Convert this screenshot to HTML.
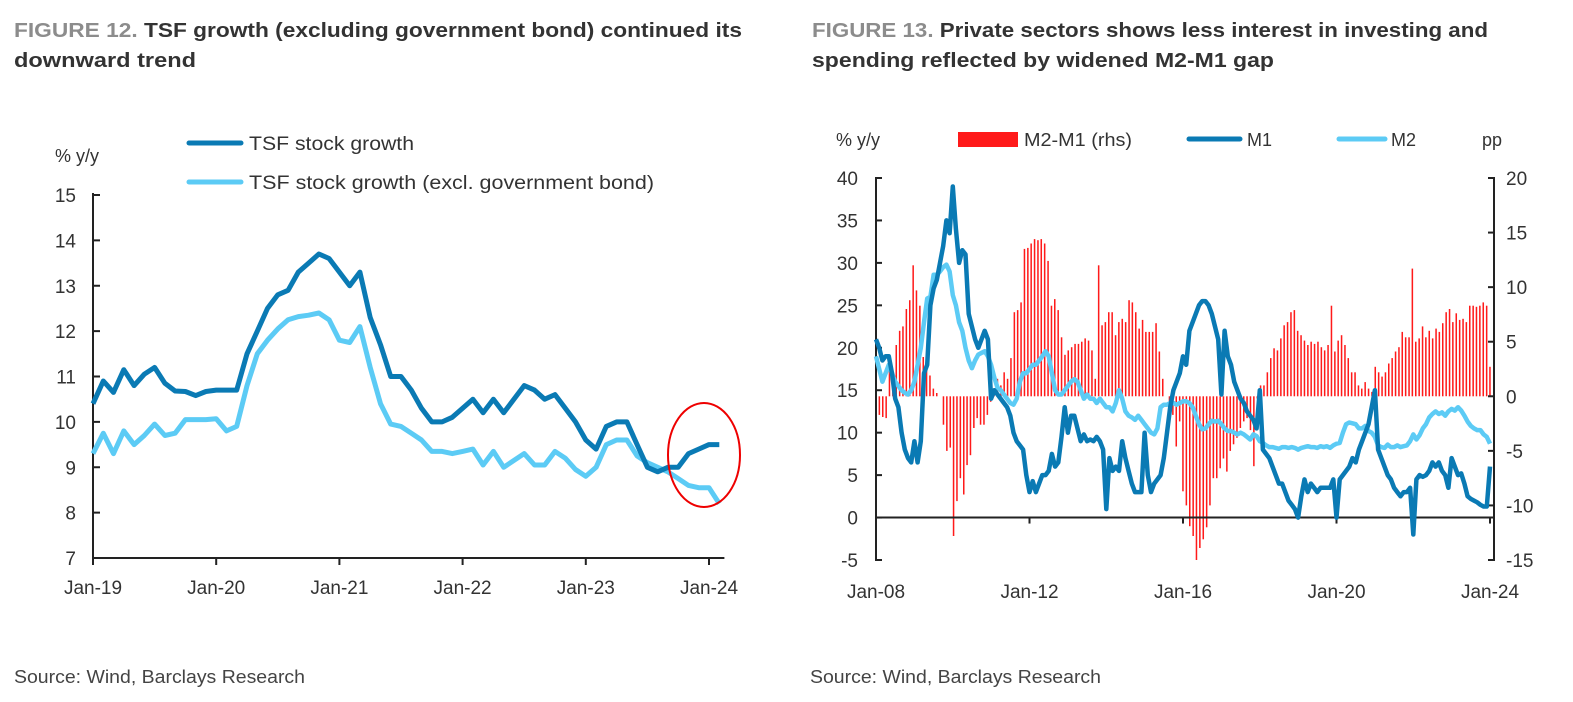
<!DOCTYPE html>
<html><head><meta charset="utf-8"><style>
html,body{margin:0;padding:0;background:#fff;}
svg{display:block;font-family:"Liberation Sans",sans-serif;}
</style></head><body>
<svg id="root" width="1573" height="702" viewBox="0 0 1573 702">
<g font-weight="bold" font-size="20" fill="#333">
<text x="14" y="37" textLength="728" lengthAdjust="spacingAndGlyphs"><tspan fill="#8c8c8c">FIGURE 12.</tspan> TSF growth (excluding government bond) continued its</text>
<text x="14" y="67" textLength="182" lengthAdjust="spacingAndGlyphs">downward trend</text>
</g>
<g font-weight="bold" font-size="20" fill="#333">
<text x="812" y="37" textLength="676" lengthAdjust="spacingAndGlyphs"><tspan fill="#8c8c8c">FIGURE 13.</tspan> Private sectors shows less interest in investing and</text>
<text x="812" y="67" textLength="462" lengthAdjust="spacingAndGlyphs">spending  reflected by widened M2-M1 gap</text>
</g>
<text x="14" y="683" font-size="18" fill="#444" textLength="291" lengthAdjust="spacingAndGlyphs">Source: Wind, Barclays Research</text>
<text x="810" y="683" font-size="18" fill="#444" textLength="291" lengthAdjust="spacingAndGlyphs">Source: Wind, Barclays Research</text>

<g id="left"></g>
<g id="right"></g>
</svg>
<script>
// ---- Figure 12 data ----
const tsfStart = "Jan-19";
const tsfTicks = ["Jan-19","Jan-20","Jan-21","Jan-22","Jan-23","Jan-24"];
const tsfYTicks = [7,8,9,10,11,12,13,14,15];
const tsfGrowth = [10.4,10.9,10.65,11.15,10.8,11.05,11.2,10.85,10.68,10.67,10.58,10.67,10.7,10.7,10.7,11.5,12.0,12.5,12.8,12.9,13.3,13.5,13.7,13.6,13.3,13.0,13.3,12.3,11.7,11.0,11.0,10.7,10.3,10.0,10.0,10.1,10.3,10.5,10.2,10.5,10.2,10.5,10.8,10.7,10.5,10.6,10.3,10.0,9.6,9.4,9.9,10.0,10.0,9.5,9.0,8.9,9.0,9.0,9.3,9.4,9.5,9.5];
const tsfExGov = [9.3,9.75,9.3,9.8,9.5,9.7,9.95,9.7,9.75,10.05,10.05,10.05,10.07,9.8,9.9,10.8,11.5,11.8,12.05,12.25,12.32,12.35,12.4,12.25,11.8,11.75,12.1,11.2,10.4,9.95,9.9,9.75,9.6,9.35,9.35,9.3,9.35,9.4,9.05,9.35,9.0,9.15,9.3,9.05,9.05,9.35,9.2,8.95,8.8,9.0,9.5,9.6,9.6,9.25,9.1,9.0,8.9,8.75,8.6,8.55,8.55,8.2];

// ---- Figure 13 data ----
const mTicks = ["Jan-08","Jan-12","Jan-16","Jan-20","Jan-24"];
const mLeftTicks = [-5,0,5,10,15,20,25,30,35,40];
const mRightTicks = [-15,-10,-5,0,5,10,15,20];
const m1 = [21,20,18.5,19,19,17,14,13,10,8,7,6.5,9,6.5,9,17,18,25,27,28,30,32,35,33.5,39,34,30,31.5,31,24,22.5,21,20,21,22,21,14,15,14.5,14,13.5,13,12,10,9,8.5,8,5,
3,4.3,3,4,5,5,5.5,7.5,6,6.5,9.5,13,10,12,12,10.5,9,9.8,9,9.2,9,9.5,9,8,
1,7,5.5,6,5.5,9,7,5.5,4,3,3,3,10,
5,3,4,4.5,5,7,10,13,15,16,17,19,18,22,23,24,25,25.5,25.5,25,24,22.5,21,
14.5,22,19,18,16,15,14,13.5,12.5,12,11.5,10.5,15,8,7.5,7,6,5,4,4,3,2,1.5,1,0,
2.5,4.5,3,4,3.5,3,3.5,3.5,3.5,3.5,4.5,0,4.5,5,5.5,6,7,6.5,8,9,10,11,13,15,8,7,6,5,4.5,3.5,3,2.5,3,3,3.5,-2,4.5,5,4.8,5,5.5,6.5,6,6.5,5.5,5,3.5,7,6,5,5.2,4,2.5,2.2,2,1.8,1.5,1.3,1.3,6];
const m2 = [19,17.5,16,17,18,17,16,15.5,15,14.7,14.5,15,16,18,20,
23,25.8,26,28.6,28.6,29,29.5,29.8,29,26.2,
25,23,22,20,18.5,17.6,18.5,19.2,19.4,19.6,19,18,
16.5,15.3,15,14.5,14,13.5,13.3,14,16,
17,17,17.5,18,18,18.5,19,19.6,19,17,15,14.5,14.5,
15,15.5,16,16.3,16,15,14,14.5,14,14,13.5,14,
13.5,13,13,12.5,13.5,15,14,12.5,12,11.8,11.5,12,11.5,11,
10.5,10,9.8,10.5,13,13.3,13.3,13.5,
13.5,13.3,13.5,13.7,13.7,13.5,13,12,11,10.4,10.5,11,
11.4,11.3,11.4,11,10.5,10.2,10.2,10,9.8,10,9.8,9.5,9.2,9.8,9.6,9,
8.8,8.5,8.3,8.3,8.2,8.1,8.3,8.3,8.2,8.3,8.2,8,8.2,8.3,8.4,8.3,8.3,8.2,8.4,8.3,8.4,8.2,8.5,8.7,
8.8,10,11,11.2,11.1,11,10.5,10.5,10.8,10.2,10,9.5,8.5,8.3,
8.2,8.6,8.3,8.3,8.5,8.3,8.4,8.5,9,9.8,9.2,9.7,10.5,11,11.8,12.2,12.5,12.2,12.4,12,12.5,12.8,12.6,13,12.6,12,11.3,10.8,10.5,10.3,10.3,9.8,9.5,8.7];
const spread = [-1.7,-1.7,-1.9,-2,3.3,2.2,4.7,6,6.4,8,8.8,12,9.7,8.3,3.6,3.6,1.9,0.7,0.3,0,
-2.6,-5,-4.7,-12.8,-9.6,-7.5,-9,-6.3,-5.4,-2.9,-2,-2.6,-2.6,-1.7,-0.5,0.4,
1.6,1,2.2,1.6,3.5,7.7,7.9,8.6,13.5,13.6,14,14.4,14.3,14.4,14,12.4,8.3,8.9,7.9,5.4,3.8,4.2,4.5,4.8,4.8,5,5.3,5.1,4.2,1.6,12,
6.5,6.8,7.7,7.7,5.6,6.8,7.1,6.8,8.8,8.6,7.7,6.2,7,5.9,5.9,5.9,6.7,4.1,1.6,0,
-2,-1.7,-4.6,-2.3,-8.7,-10,-11.9,-12.8,-15,-13.9,-13.1,-12,-10,-7.5,-7.5,-6.6,-5.7,-6.9,-5,-4.4,-3.8,-2.9,-2.3,-2,-3.1,-6.4,-0.2,
1,1,2.2,3.5,4.4,4.2,5.3,6.5,6.8,7.7,7.9,6,5.6,5.1,4.7,5,4.8,5,4.5,4.2,4.7,8.3,4.1,5.1,5.6,4.7,3.5,2.2,2.2,1,0.7,1.3,0.7,0.4,
2.7,2.2,1.8,2.2,3,3.5,4.1,4.5,5.9,5.4,5.4,11.7,5,5.3,6.4,5.4,6,5.3,6.2,5.9,6.7,7.7,8,6.8,7.6,7,7.1,6.8,8.3,8.3,8.2,8.3,8.6,8.3,2.7];

const NS = "http://www.w3.org/2000/svg";
function mk(parent, tag, attrs, text) {
  const el = document.createElementNS(NS, tag);
  for (const k in attrs) el.setAttribute(k, attrs[k]);
  if (text !== undefined) el.textContent = text;
  parent.appendChild(el);
  return el;
}

// ===== Left chart =====
(function(){
  const g = document.getElementById('left');
  const x0 = 93, pxPerMonth = 123.2/12, yTop = 195, yBot = 558, vMin = 7, vMax = 15;
  const X = i => x0 + i * pxPerMonth;
  const Y = v => yBot - (v - vMin) / (vMax - vMin) * (yBot - yTop);
  let el;
  el = mk(g,'line',{x1:x0,y1:yTop-2,x2:x0,y2:yBot,stroke:'#222','stroke-width':2});
   
  el = mk(g,'line',{x1:x0,y1:yBot,x2:X(61.5),y2:yBot,stroke:'#222','stroke-width':2});
   
  tsfYTicks.forEach(v=>{
    const t = mk(g,'line',{x1:x0,y1:Y(v),x2:x0+7,y2:Y(v),stroke:'#222','stroke-width':2});
     
    const l = mk(g,'text',{x:76,y:Y(v)+7,'font-size':19,fill:'#333','text-anchor':'end'},String(v));
     
  });
  tsfTicks.forEach((s,i)=>{
    const x = X(i*12);
    const t = mk(g,'line',{x1:x,y1:yBot,x2:x,y2:yBot+7,stroke:'#222','stroke-width':2});
     
    const l = mk(g,'text',{x:x,y:yBot+36,'font-size':19,fill:'#333','text-anchor':'middle'},s);
     
  });
  const pts = arr => arr.map((v,i)=>X(i).toFixed(1)+','+Y(v).toFixed(1)).join(' ');
  el = mk(g,'polyline',{points:pts(tsfExGov),fill:'none',stroke:'#5ccbf5','stroke-width':5,'stroke-linejoin':'round'});
   
  el = mk(g,'polyline',{points:pts(tsfGrowth),fill:'none',stroke:'#0a7ab4','stroke-width':5,'stroke-linejoin':'round'});
   
  el = mk(g,'ellipse',{cx:704,cy:455,rx:36,ry:52,fill:'none',stroke:'#e00','stroke-width':2});
   
  el = mk(g,'text',{x:55,y:162,'font-size':18,fill:'#333'},'% y/y');
   
  el = mk(g,'line',{x1:189,y1:143,x2:241,y2:143,stroke:'#0a7ab4','stroke-width':5,'stroke-linecap':'round'});
   
  el = mk(g,'text',{x:249,y:150,'font-size':19,fill:'#333',textLength:165,lengthAdjust:'spacingAndGlyphs'},'TSF stock growth');
   
  el = mk(g,'line',{x1:189,y1:182,x2:241,y2:182,stroke:'#5ccbf5','stroke-width':5,'stroke-linecap':'round'});
   
  el = mk(g,'text',{x:249,y:189,'font-size':19,fill:'#333',textLength:405,lengthAdjust:'spacingAndGlyphs'},'TSF stock growth (excl. government bond)');
   
})();

// ===== Right chart =====
(function(){
  const g = document.getElementById('right');
  const xL = 876, xR = 1494, xEnd = 1490, yTop = 178, yBot = 560;
  const YL = v => yBot - (v + 5) / 45 * (yBot - yTop);
  const YR = v => yBot - (v + 15) / 35 * (yBot - yTop);
  const XS = (i,n) => xL + i * (xEnd - xL) / (n - 1);
  let el;
  const bw = (xEnd - xL) / (spread.length - 1) * 0.45;
  spread.forEach((v,i)=>{
    const x = XS(i, spread.length);
    const y0 = YR(0), y1 = YR(v);
    const b = mk(g,'rect',{x:(x-bw/2).toFixed(1),y:Math.min(y0,y1).toFixed(1),width:bw.toFixed(2),height:Math.abs(y1-y0).toFixed(1),fill:'#ff1a1a'});
     
  });
  el = mk(g,'line',{x1:xL,y1:YL(0),x2:xR,y2:YL(0),stroke:'#222','stroke-width':2});
   
  el = mk(g,'line',{x1:xL,y1:yTop,x2:xL,y2:yBot,stroke:'#222','stroke-width':2});
   
  el = mk(g,'line',{x1:xR,y1:yTop,x2:xR,y2:yBot,stroke:'#222','stroke-width':2});
   
  mLeftTicks.forEach(v=>{
    const t = mk(g,'line',{x1:xL-1,y1:YL(v),x2:xL+6,y2:YL(v),stroke:'#222','stroke-width':2});
     
    const l = mk(g,'text',{x:858,y:YL(v)+7,'font-size':19,fill:'#333','text-anchor':'end'},String(v));
     
  });
  mRightTicks.forEach(v=>{
    const t = mk(g,'line',{x1:xR-6,y1:YR(v),x2:xR+1,y2:YR(v),stroke:'#222','stroke-width':2});
     
    const l = mk(g,'text',{x:1506,y:YR(v)+7,'font-size':19,fill:'#333'},String(v));
     
  });
  mTicks.forEach((s,i)=>{
    const x = XS(i*48, 193);
    const t = mk(g,'line',{x1:x,y1:YL(0),x2:x,y2:YL(0)+6,stroke:'#222','stroke-width':2});
     
    const l = mk(g,'text',{x:x,y:598,'font-size':19,fill:'#333','text-anchor':'middle'},s);
     
  });
  const pts = arr => arr.map((v,i)=>XS(i,arr.length).toFixed(1)+','+YL(v).toFixed(1)).join(' ');
  el = mk(g,'polyline',{points:pts(m2),fill:'none',stroke:'#5ccbf5','stroke-width':4.5,'stroke-linejoin':'round'});
   
  el = mk(g,'polyline',{points:pts(m1),fill:'none',stroke:'#0a7ab4','stroke-width':4.5,'stroke-linejoin':'round'});
   
  el = mk(g,'text',{x:836,y:146,'font-size':18,fill:'#333'},'% y/y');
   
  el = mk(g,'text',{x:1482,y:146,'font-size':18,fill:'#333'},'pp');
   
  el = mk(g,'rect',{x:958,y:132,width:60,height:15,fill:'#ff1a1a'});
   
  el = mk(g,'text',{x:1024,y:146,'font-size':18,fill:'#333',textLength:108,lengthAdjust:'spacingAndGlyphs'},'M2-M1 (rhs)');
   
  el = mk(g,'line',{x1:1189,y1:139,x2:1240,y2:139,stroke:'#0a7ab4','stroke-width':5,'stroke-linecap':'round'});
   
  el = mk(g,'text',{x:1247,y:146,'font-size':18,fill:'#333'},'M1');
   
  el = mk(g,'line',{x1:1339,y1:139,x2:1385,y2:139,stroke:'#5ccbf5','stroke-width':5,'stroke-linecap':'round'});
   
  el = mk(g,'text',{x:1391,y:146,'font-size':18,fill:'#333'},'M2');
   
})();
</script>
</body></html>
